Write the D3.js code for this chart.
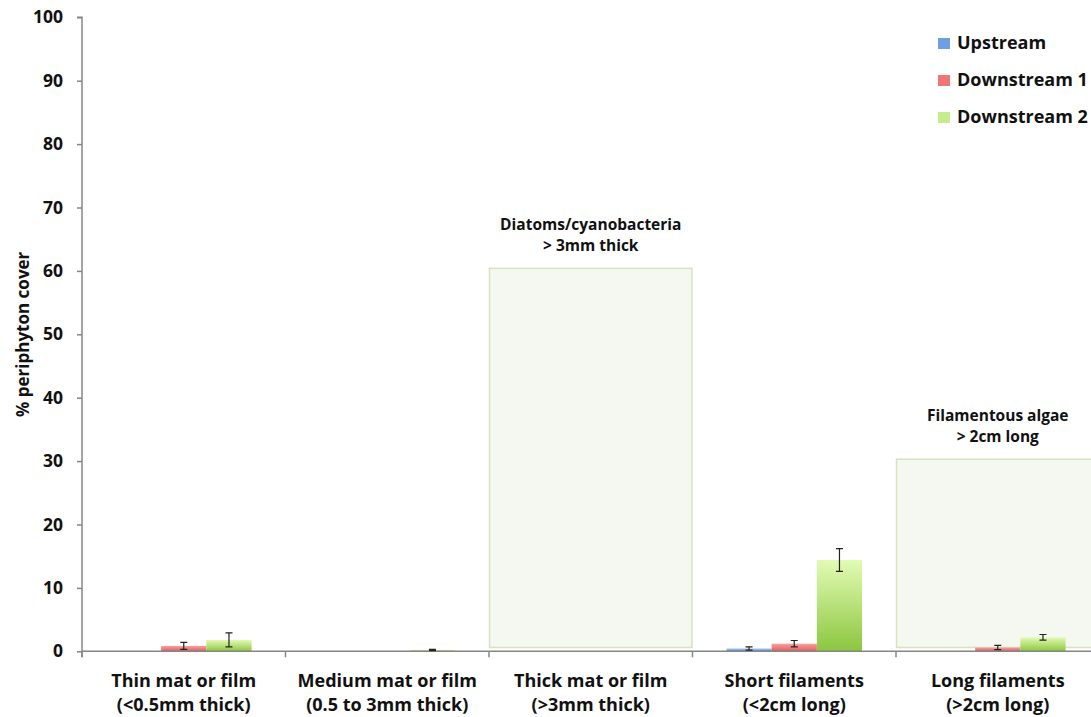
<!DOCTYPE html>
<html>
<head>
<meta charset="utf-8">
<script src="https://cdn.jsdelivr.net/npm/d3@7"></script>
<style>
  html, body { margin: 0; padding: 0; background: #fff; overflow: hidden; }
  svg { display: block; font-family: "Open Sans", Lato, sans-serif; font-weight: bold; }
</style>
</head>
<body>
<svg id="chart" width="1091" height="717"></svg>
<script>
// Periphyton cover by type and site
const categoryLines = [
  ["Thin mat or film", "(<0.5mm thick)"],
  ["Medium mat or film", "(0.5 to 3mm thick)"],
  ["Thick mat or film", "(>3mm thick)"],
  ["Short filaments", "(<2cm long)"],
  ["Long filaments", "(>2cm long)"]
];
const categories = categoryLines.map(d => d[0]);
const series = ["Upstream", "Downstream 1", "Downstream 2"];

const upstream      = [0,    0,   0, 0.45, 0];
const downstream1   = [0.85, 0,   0, 1.2,  0.6];
const downstream2   = [1.8,  0.2, 0, 14.4, 2.2];
const upstreamErr    = [0,    0,   0, 0.25, 0];
const downstream1Err = [0.55, 0,   0, 0.5,  0.35];
const downstream2Err = [1.1,  0.1, 0, 1.8,  0.45];

const yTicks = [0, 10, 20, 30, 40, 50, 60, 70, 80, 90, 100];

// Guideline bands (upper limits) shown behind the bars
const guideCategories = ["Thick mat or film", "Long filaments"];
const guideLower = [0.6, 0.6];
const guideUpper = [60.4, 30.3];
const guideLabels = [["Diatoms/cyanobacteria", "> 3mm thick"], ["Filamentous algae", "> 2cm long"]];

const seriesValues = [upstream, downstream1, downstream2];
const seriesErrors = [upstreamErr, downstream1Err, downstream2Err];
const gradStops = [
  ["#a9c8f0", "#5b8fd6"],
  ["#f5a3a3", "#e35a5a"],
  ["#e2fbb4", "#8cc63f"]
];
const legendColors = ["#6f9fe3", "#ee7676", "#c6ec8e"];

const svg = d3.select("#chart");
const margin = { left: 82, top: 17.3, bottom: 651.3 };
const xRight = 1099.5;

const x0 = d3.scaleBand().domain(categories).range([margin.left, xRight]).paddingInner(0).paddingOuter(0);
const x1 = d3.scaleBand().domain(series).range([0, x0.bandwidth()]).paddingInner(0).paddingOuter(0.75);
const y = d3.scaleLinear().domain([0, 100]).range([margin.bottom, margin.top]);

// gradients
const defs = svg.append("defs");
series.forEach((s, i) => {
  const g = defs.append("linearGradient").attr("id", "grad" + i)
    .attr("x1", 0).attr("y1", 0).attr("x2", 0).attr("y2", 1);
  g.append("stop").attr("offset", "0%").attr("stop-color", gradStops[i][0]);
  g.append("stop").attr("offset", "100%").attr("stop-color", gradStops[i][1]);
});

// guideline boxes
const guides = guideCategories.map((c, i) => ({ c, lo: guideLower[i], hi: guideUpper[i], label: guideLabels[i] }));
svg.append("g").selectAll("rect").data(guides).join("rect")
  .attr("x", d => x0(d.c) + 0.5)
  .attr("width", x0.bandwidth() - 1)
  .attr("y", d => y(d.hi))
  .attr("height", d => y(d.lo) - y(d.hi))
  .attr("fill", "#f5f8f0")
  .attr("stroke", "#d5e3bf")
  .attr("stroke-width", 1.5);

svg.append("g").selectAll("text").data(guides).join("text")
  .attr("text-anchor", "middle")
  .attr("font-size", 15.5)
  .attr("fill", "#111")
  .each(function(d) {
    const t = d3.select(this);
    const cx = x0(d.c) + x0.bandwidth() / 2;
    d.label.forEach((line, k) => {
      t.append("tspan").attr("x", cx).attr("y", y(d.hi) - 38.5 + k * 21).text(line);
    });
  });

// axes
const yAxis = d3.axisLeft(y).tickValues(yTicks).tickSize(5).tickPadding(14);
const gy = svg.append("g").attr("transform", `translate(${margin.left},0)`).call(yAxis);
gy.select(".domain").attr("stroke", "#868686").attr("stroke-width", 1.5).attr("d", `M-5,${y(100)}H0V${y(0) + 6}`);
gy.selectAll(".tick line").attr("stroke", "#868686").attr("stroke-width", 1.5);
gy.selectAll(".tick text").attr("font-size", 17.5).attr("fill", "#111").attr("font-family", "'Open Sans', sans-serif").attr("font-weight", "bold");

// bars
const bars = [];
series.forEach((s, i) => {
  categories.forEach((c, j) => {
    bars.push({ s, i, c, v: seriesValues[i][j], e: seriesErrors[i][j] });
  });
});
const shown = bars.filter(d => d.v > 0);

svg.append("g").selectAll("rect").data(shown).join("rect")
  .attr("x", d => x0(d.c) + x1(d.s))
  .attr("width", x1.bandwidth())
  .attr("y", d => y(d.v))
  .attr("height", d => y(0) - y(d.v))
  .attr("fill", d => `url(#grad${d.i})`);

// x axis line and category ticks
const xAxis = d3.axisBottom(x0).tickSize(0).tickFormat("");
const gx = svg.append("g").attr("transform", `translate(0,${margin.bottom})`).call(xAxis);
gx.select(".domain").attr("stroke", "#868686").attr("stroke-width", 1.5).attr("d", `M${margin.left},0H${xRight}`);
gx.selectAll(".tick").remove();
const bounds = categories.map(c => x0(c)).concat([xRight]);
gx.selectAll("line.bound").data(bounds).join("line").attr("class", "bound")
  .attr("x1", d => d).attr("x2", d => d).attr("y1", 0).attr("y2", 6)
  .attr("stroke", "#868686").attr("stroke-width", 1.5);

// error bars
const eb = svg.append("g").attr("stroke", "#222").attr("stroke-width", 1.2).attr("fill", "none");
shown.filter(d => d.e > 0).forEach(d => {
  const cx = x0(d.c) + x1(d.s) + x1.bandwidth() / 2;
  const yt = y(d.v + d.e), yb = y(d.v - d.e);
  eb.append("path").attr("d", `M${cx},${yt}V${yb}M${cx - 3.5},${yt}H${cx + 3.5}M${cx - 3.5},${yb}H${cx + 3.5}`);
});

// category labels
svg.append("g").selectAll("text").data(categoryLines).join("text")
  .attr("text-anchor", "middle")
  .attr("font-size", 18)
  .attr("fill", "#111")
  .each(function(d, j) {
    const t = d3.select(this);
    const cx = x0(categories[j]) + x0.bandwidth() / 2;
    d.forEach((line, k) => t.append("tspan").attr("x", cx).attr("y", 687 + k * 24).text(line));
  });

// y axis title
svg.append("text")
  .attr("transform", `translate(29,${(y(0) + y(100)) / 2}) rotate(-90)`)
  .attr("text-anchor", "middle")
  .attr("font-size", 17)
  .attr("fill", "#111")
  .text("% periphyton cover");

// legend
const lg = svg.append("g").selectAll("g").data(series).join("g")
  .attr("transform", (d, i) => `translate(938,${38 + i * 37})`);
lg.append("rect").attr("width", 12).attr("height", 11).attr("fill", (d, i) => legendColors[i]);
lg.append("text").attr("x", 19).attr("y", 11).attr("font-size", 18).attr("fill", "#111").text(d => d);
</script>
</body>
</html>
